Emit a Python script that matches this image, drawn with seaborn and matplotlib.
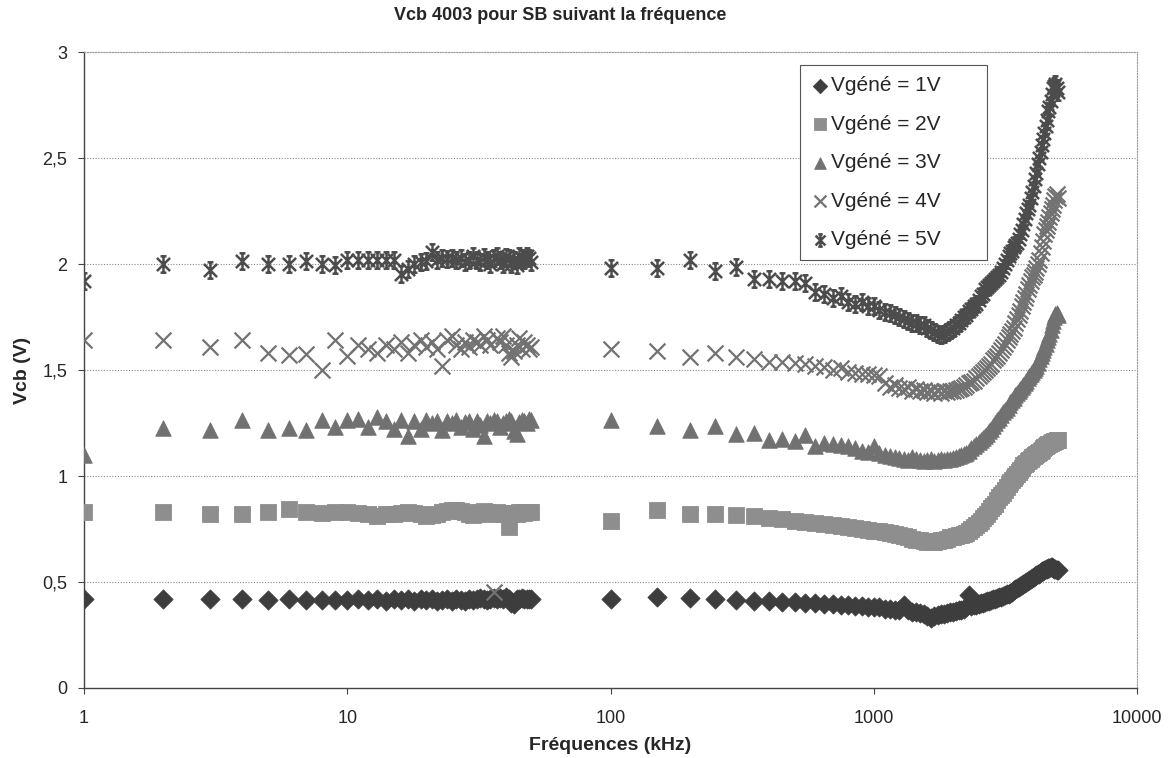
import numpy as np
import pandas as pd
import seaborn as sns
import matplotlib.pyplot as plt
from matplotlib.path import Path
from matplotlib.ticker import FixedLocator, NullLocator

# Frequencies (kHz): two measurement sweeps
freq_low = [1, 2, 3, 4, 5, 6, 7, 8, 9, 10,
            11, 12, 13, 14, 15, 16, 17, 18, 19, 20,
            21, 22, 23, 24, 25, 26, 27, 28, 29, 30,
            31, 32, 33, 34, 35, 36, 37, 38, 39, 40,
            41, 42, 43, 44, 45, 46, 47, 48, 49, 50]
freq_high = [100, 150, 200, 250, 300, 350, 400, 450, 500, 550,
             600, 650, 700, 750, 800, 850, 900, 950, 1000, 1050,
             1100, 1150, 1200, 1250, 1300, 1350, 1400, 1450, 1500, 1550,
             1600, 1650, 1700, 1750, 1800, 1850, 1900, 1950, 2000, 2050,
             2100, 2150, 2200, 2250, 2300, 2350, 2400, 2450, 2500, 2550,
             2600, 2650, 2700, 2750, 2800, 2850, 2900, 2950, 3000, 3050,
             3100, 3150, 3200, 3250, 3300, 3350, 3400, 3450, 3500, 3550,
             3600, 3650, 3700, 3750, 3800, 3850, 3900, 3950, 4000, 4050,
             4100, 4150, 4200, 4250, 4300, 4350, 4400, 4450, 4500, 4550,
             4600, 4650, 4700, 4750, 4800, 4850, 4900, 4950, 5000]

# Vgene = 1V
v1_low = [0.42, 0.42, 0.42, 0.42, 0.415, 0.42, 0.415, 0.415, 0.415, 0.415,
          0.42, 0.415, 0.42, 0.41, 0.42, 0.415, 0.42, 0.41, 0.42, 0.415,
          0.42, 0.41, 0.415, 0.42, 0.41, 0.42, 0.415, 0.41, 0.42, 0.415,
          0.42, 0.425, 0.42, 0.415, 0.42, 0.425, 0.42, 0.425, 0.42, 0.43,
          0.42, 0.40, 0.395, 0.42, 0.42, 0.425, 0.42, 0.42, 0.42, 0.42]
v1_high = [0.42, 0.43, 0.425, 0.42, 0.415, 0.41, 0.41, 0.405, 0.405, 0.40,
           0.40, 0.395, 0.395, 0.39, 0.39, 0.385, 0.385, 0.38, 0.38, 0.38,
           0.375, 0.375, 0.37, 0.37, 0.39, 0.37, 0.36, 0.36, 0.355, 0.35,
           0.34, 0.33, 0.34, 0.345, 0.35, 0.35, 0.355, 0.36, 0.36, 0.365,
           0.37, 0.37, 0.375, 0.38, 0.44, 0.385, 0.39, 0.39, 0.395, 0.40,
           0.40, 0.405, 0.41, 0.41, 0.415, 0.42, 0.42, 0.425, 0.43, 0.43,
           0.435, 0.44, 0.445, 0.445, 0.45, 0.455, 0.46, 0.465, 0.47, 0.475,
           0.48, 0.485, 0.49, 0.495, 0.50, 0.505, 0.51, 0.515, 0.52, 0.525,
           0.53, 0.535, 0.54, 0.54, 0.545, 0.55, 0.55, 0.555, 0.56, 0.56,
           0.565, 0.565, 0.57, 0.57, 0.565, 0.56, 0.56, 0.555, 0.555]

# Vgene = 2V
v2_low = [0.83, 0.83, 0.82, 0.82, 0.83, 0.845, 0.83, 0.825, 0.83, 0.83,
          0.825, 0.82, 0.81, 0.82, 0.82, 0.825, 0.83, 0.825, 0.82, 0.81,
          0.815, 0.82, 0.83, 0.835, 0.84, 0.84, 0.835, 0.83, 0.82, 0.815,
          0.82, 0.83, 0.835, 0.83, 0.825, 0.82, 0.83, 0.825, 0.82, 0.825,
          0.76, 0.82, 0.825, 0.82, 0.83, 0.83, 0.825, 0.83, 0.83, 0.83]
v2_high = [0.79, 0.84, 0.82, 0.82, 0.815, 0.81, 0.80, 0.795, 0.79, 0.785,
           0.78, 0.775, 0.77, 0.765, 0.76, 0.755, 0.75, 0.745, 0.74, 0.74,
           0.735, 0.73, 0.725, 0.72, 0.715, 0.71, 0.705, 0.70, 0.70, 0.695,
           0.69, 0.69, 0.69, 0.695, 0.70, 0.70, 0.705, 0.71, 0.71, 0.715,
           0.72, 0.72, 0.725, 0.73, 0.74, 0.75, 0.76, 0.77, 0.78, 0.79,
           0.80, 0.81, 0.82, 0.835, 0.85, 0.86, 0.87, 0.885, 0.90, 0.91,
           0.92, 0.935, 0.95, 0.96, 0.97, 0.98, 0.99, 1.00, 1.01, 1.02,
           1.03, 1.04, 1.05, 1.055, 1.06, 1.07, 1.075, 1.08, 1.09, 1.095,
           1.10, 1.105, 1.11, 1.115, 1.12, 1.125, 1.13, 1.135, 1.14, 1.145,
           1.15, 1.15, 1.155, 1.16, 1.16, 1.165, 1.165, 1.17, 1.17]

# Vgene = 3V
v3_low = [1.10, 1.225, 1.215, 1.265, 1.215, 1.225, 1.215, 1.265, 1.23, 1.265,
          1.27, 1.23, 1.28, 1.26, 1.22, 1.265, 1.19, 1.26, 1.22, 1.265,
          1.25, 1.26, 1.215, 1.26, 1.25, 1.265, 1.23, 1.255, 1.26, 1.22,
          1.26, 1.24, 1.19, 1.26, 1.25, 1.265, 1.26, 1.23, 1.25, 1.26,
          1.27, 1.26, 1.21, 1.20, 1.255, 1.265, 1.26, 1.25, 1.27, 1.265]
v3_high = [1.265, 1.235, 1.215, 1.235, 1.20, 1.205, 1.17, 1.175, 1.165, 1.195,
           1.14, 1.155, 1.15, 1.145, 1.14, 1.13, 1.12, 1.115, 1.14, 1.11,
           1.10, 1.095, 1.09, 1.085, 1.08, 1.075, 1.09, 1.08, 1.075, 1.07,
           1.075, 1.08, 1.07, 1.075, 1.08, 1.075, 1.08, 1.08, 1.085, 1.09,
           1.095, 1.10, 1.105, 1.11, 1.12, 1.13, 1.14, 1.15, 1.16, 1.17,
           1.18, 1.19, 1.20, 1.21, 1.22, 1.235, 1.25, 1.265, 1.275, 1.29,
           1.30, 1.31, 1.32, 1.335, 1.35, 1.36, 1.37, 1.38, 1.39, 1.40,
           1.41, 1.42, 1.43, 1.44, 1.45, 1.46, 1.47, 1.48, 1.49, 1.50,
           1.51, 1.52, 1.535, 1.55, 1.565, 1.58, 1.595, 1.61, 1.625, 1.64,
           1.655, 1.67, 1.69, 1.71, 1.73, 1.75, 1.765, 1.77, 1.76]

# Vgene = 4V
v4_low = [1.64, 1.64, 1.61, 1.64, 1.58, 1.57, 1.575, 1.50, 1.64, 1.565,
          1.62, 1.60, 1.58, 1.62, 1.60, 1.63, 1.58, 1.62, 1.64, 1.61,
          1.63, 1.60, 1.52, 1.64, 1.66, 1.62, 1.60, 1.63, 1.61, 1.64,
          1.63, 1.62, 1.66, 1.64, 1.62, 0.455, 1.65, 1.63, 1.66, 1.62,
          1.58, 1.56, 1.59, 1.62, 1.65, 1.60, 1.63, 1.62, 1.60, 1.61]
v4_high = [1.60, 1.59, 1.56, 1.58, 1.56, 1.55, 1.54, 1.54, 1.535, 1.53,
           1.52, 1.515, 1.50, 1.51, 1.49, 1.485, 1.48, 1.48, 1.475, 1.47,
           1.44, 1.42, 1.43, 1.415, 1.41, 1.42, 1.40, 1.41, 1.40, 1.405,
           1.395, 1.40, 1.39, 1.40, 1.39, 1.40, 1.395, 1.40, 1.40, 1.405,
           1.41, 1.415, 1.42, 1.43, 1.44, 1.445, 1.45, 1.46, 1.47, 1.48,
           1.49, 1.50, 1.51, 1.52, 1.53, 1.545, 1.555, 1.565, 1.58, 1.595,
           1.61, 1.625, 1.64, 1.655, 1.67, 1.685, 1.70, 1.72, 1.74, 1.76,
           1.78, 1.80, 1.82, 1.84, 1.86, 1.88, 1.90, 1.92, 1.94, 1.95,
           1.96, 1.98, 2.00, 2.02, 2.05, 2.08, 2.11, 2.14, 2.16, 2.18,
           2.20, 2.22, 2.24, 2.26, 2.28, 2.30, 2.32, 2.33, 2.31]

# Vgene = 5V
v5_low = [1.92, 2.00, 1.97, 2.015, 2.00, 2.00, 2.015, 2.00, 1.995, 2.02,
          2.02, 2.02, 2.02, 2.02, 2.02, 1.955, 1.975, 2.00, 2.01, 2.015,
          2.055, 2.02, 2.03, 2.025, 2.03, 2.02, 2.03, 2.01, 2.02, 2.04,
          2.02, 2.01, 2.035, 2.02, 2.00, 2.03, 2.04, 2.02, 2.00, 2.035,
          2.03, 2.00, 2.02, 1.995, 2.04, 2.03, 2.02, 2.04, 2.03, 2.01]
v5_high = [1.98, 1.98, 2.02, 1.965, 1.985, 1.93, 1.93, 1.92, 1.92, 1.91,
           1.87, 1.86, 1.84, 1.85, 1.82, 1.81, 1.82, 1.80, 1.80, 1.785,
           1.775, 1.77, 1.76, 1.75, 1.74, 1.73, 1.72, 1.72, 1.71, 1.71,
           1.70, 1.69, 1.68, 1.67, 1.665, 1.67, 1.68, 1.69, 1.70, 1.71,
           1.72, 1.735, 1.75, 1.76, 1.78, 1.79, 1.80, 1.81, 1.83, 1.85,
           1.86, 1.88, 1.89, 1.90, 1.91, 1.92, 1.93, 1.94, 1.95, 1.96,
           1.98, 2.00, 2.02, 2.04, 2.05, 2.06, 2.08, 2.09, 2.10, 2.12,
           2.14, 2.16, 2.19, 2.21, 2.24, 2.26, 2.28, 2.31, 2.34, 2.37,
           2.40, 2.43, 2.47, 2.50, 2.53, 2.56, 2.59, 2.62, 2.65, 2.68,
           2.72, 2.74, 2.77, 2.80, 2.83, 2.84, 2.85, 2.83, 2.81]

labels = ["Vgéné = 1V", "Vgéné = 2V", "Vgéné = 3V", "Vgéné = 4V", "Vgéné = 5V"]
x_ticks = [1, 10, 100, 1000, 10000]
x_ticklabels = ["1", "10", "100", "1000", "10000"]
y_ticks = [0, 0.5, 1, 1.5, 2, 2.5, 3]
y_ticklabels = ["0", "0,5", "1", "1,5", "2", "2,5", "3"]

# Excel-like "star" marker: x with a vertical bar and small serifs
star = Path([(-1, -1), (1, 1), (-1, 1), (1, -1), (0, -1.25), (0, 1.25),
             (-0.45, 1.25), (0.45, 1.25), (-0.45, -1.25), (0.45, -1.25)],
            [Path.MOVETO, Path.LINETO] * 5)

series = [
    (labels[0], v1_low + v1_high, "D", "#3d3d3d", 95, 0.6),
    (labels[1], v2_low + v2_high, "s", "#8e8e8e", 125, 0.6),
    (labels[2], v3_low + v3_high, "^", "#717171", 125, 0.6),
    (labels[3], v4_low + v4_high, "x", "#727272", 130, 1.6),
    (labels[4], v5_low + v5_high, star, "#4c4c4c", 140, 1.8),
]
freq = freq_low + freq_high

sns.set_theme(style="white")
plt.rcParams['font.family'] = ['Liberation Sans', 'DejaVu Sans']

fig = plt.figure(figsize=(11.71, 7.58), dpi=100)
ax = fig.add_axes([84 / 1171, 70 / 758, 1053 / 1171, 636 / 758])

for name, vals, mk, col, size, lw in series:
    df = pd.DataFrame({"freq": freq, "vcb": vals})
    sns.scatterplot(data=df, x="freq", y="vcb", marker=mk, color=col, s=size,
                    edgecolor=col, linewidth=lw, label=name, ax=ax, zorder=3)

ax.set_xscale("log")
ax.set_xlim(1, 10000)
ax.set_ylim(0, 3)
ax.xaxis.set_major_locator(FixedLocator(x_ticks))
ax.xaxis.set_minor_locator(NullLocator())
ax.set_xticklabels(x_ticklabels, fontsize=13)
ax.set_yticks(y_ticks)
ax.set_yticklabels(y_ticklabels, fontsize=13)
ax.tick_params(axis="both", which="major", direction="out", length=4,
               width=0.8, color="#444444", pad=8, bottom=True, left=True)
ax.tick_params(axis="x", pad=12)

for yv in y_ticks[1:]:
    ax.axhline(yv, color="#8a8a8a", linestyle=(0, (1, 1.5)), linewidth=0.8, zorder=1)

for side in ["left", "bottom"]:
    ax.spines[side].set_color("#444444")
    ax.spines[side].set_linewidth(1.0)
for side in ["right", "top"]:
    ax.spines[side].set_color("#9a9a9a")
    ax.spines[side].set_linestyle((0, (1, 1.5)))
    ax.spines[side].set_linewidth(0.8)

ax.set_xlabel("Fréquences (kHz)", fontsize=14, fontweight="bold", labelpad=7)
ax.set_ylabel("Vcb (V)", fontsize=14, fontweight="bold", labelpad=8)

fig.text(560 / 1171, 1 - 16 / 758, "Vcb 4003 pour SB suivant la fréquence",
         ha="center", va="center", fontsize=13, fontweight="bold")

# legend box spans roughly x 800-987 px, y 65-258 px in the reference
leg = ax.legend(loc="upper left", bbox_to_anchor=(0.680, 0.676, 0.1775, 0.3035),
                mode="expand", fontsize=15,
                frameon=True, fancybox=False, edgecolor="#555555",
                framealpha=1, labelspacing=0.93, handlelength=0.8,
                handletextpad=0.15, borderpad=0.55, borderaxespad=0,
                markerscale=0.75)
leg.get_frame().set_linewidth(0.8)

plt.savefig("out.png", dpi=100)
